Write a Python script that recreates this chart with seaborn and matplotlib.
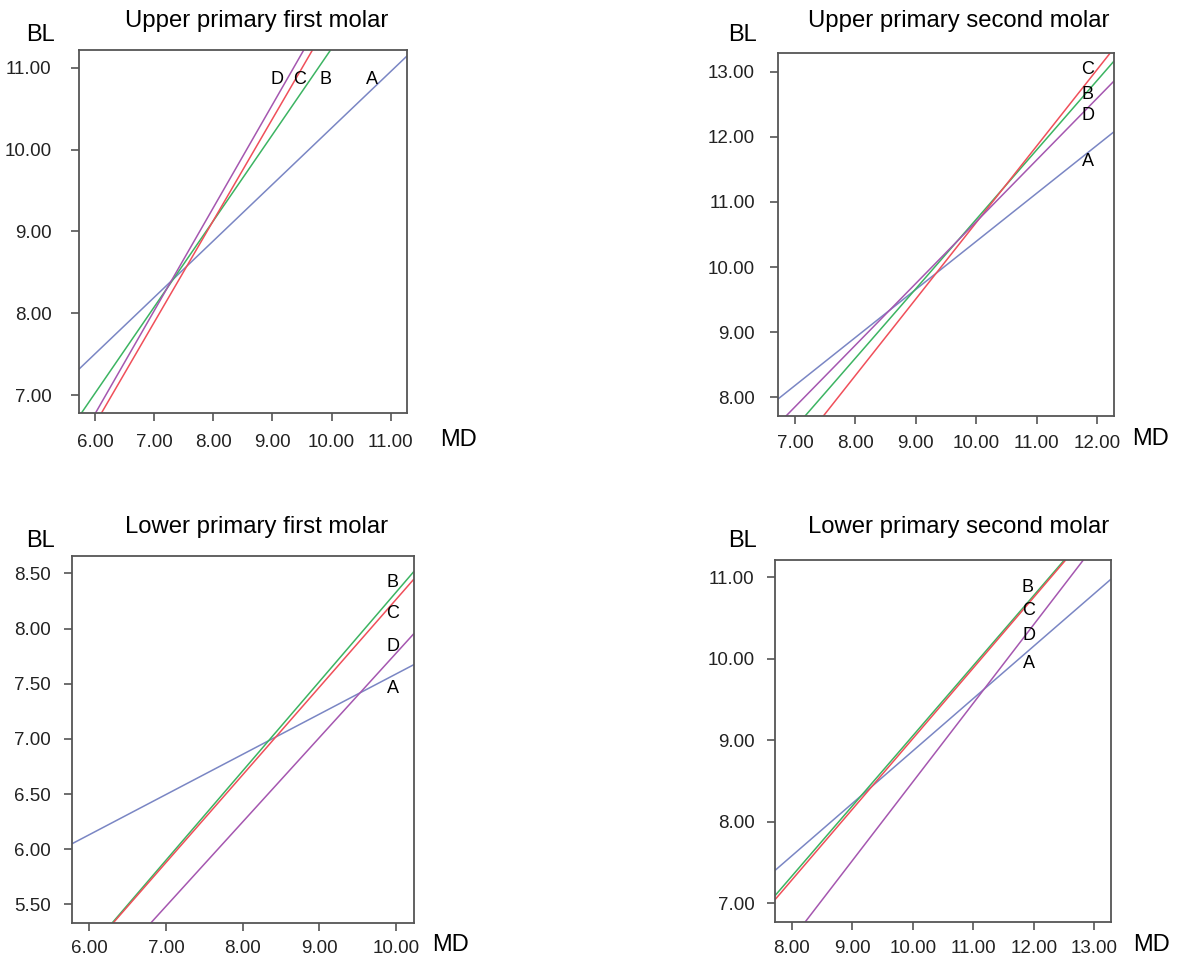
import matplotlib
matplotlib.use("Agg")
import matplotlib.pyplot as plt
import seaborn as sns
import pandas as pd

sns.set_style("white")
plt.rcParams['font.family'] = ['Liberation Sans', 'DejaVu Sans']
plt.rcParams['text.color'] = 'black'

groups = ["A", "B", "C", "D"]
colors = {"A": "#7a86c4", "B": "#3cb462", "C": "#f04f5a", "D": "#a557b0"}

titles = ["Upper primary first molar", "Upper primary second molar",
          "Lower primary first molar", "Lower primary second molar"]

# Regression line endpoints (x0, y0) -> (x1, y1), order A, B, C, D
p1_x0 = [5.725, 5.775, 6.113, 6.012]
p1_y0 = [7.313, 6.784, 6.784, 6.784]
p1_x1 = [11.275, 9.983, 9.677, 9.530]
p1_y1 = [11.143, 11.216, 11.216, 11.216]

p2_x0 = [6.713, 7.166, 7.469, 6.851]
p2_y0 = [7.970, 7.713, 7.713, 7.713]
p2_x1 = [12.287, 12.287, 12.215, 12.287]
p2_y1 = [12.080, 13.167, 13.281, 12.860]

p3_x0 = [5.769, 6.300, 6.313, 6.805]
p3_y0 = [6.048, 5.334, 5.334, 5.334]
p3_x1 = [10.235, 10.235, 10.235, 10.235]
p3_y1 = [7.672, 8.515, 8.446, 7.952]

p4_x0 = [7.719, 7.719, 7.719, 8.226]
p4_y0 = [7.401, 7.090, 7.041, 6.775]
p4_x1 = [13.270, 12.504, 12.526, 12.818]
p4_y1 = [10.975, 11.213, 11.213, 11.213]

# Axis ranges and ticks
xlims = [(5.725, 11.275), (6.713, 12.287), (5.769, 10.235), (7.719, 13.270)]
ylims = [(6.784, 11.216), (7.713, 13.281), (5.334, 8.660), (6.775, 11.213)]
xticks = [[6, 7, 8, 9, 10, 11], [7, 8, 9, 10, 11, 12], [6, 7, 8, 9, 10], [8, 9, 10, 11, 12, 13]]
yticks = [[7, 8, 9, 10, 11], [8, 9, 10, 11, 12, 13], [5.5, 6, 6.5, 7, 7.5, 8, 8.5], [7, 8, 9, 10, 11]]

# Letter label positions (data coords), order A, B, C, D
lab_x = [[10.68, 9.90, 9.46, 9.07], [11.85, 11.85, 11.85, 11.85],
         [9.96, 9.96, 9.96, 9.96], [11.92, 11.895, 11.92, 11.92]]
lab_y = [[10.86, 10.86, 10.86, 10.86], [11.62, 12.645, 13.03, 12.32],
         [7.46, 8.42, 8.136, 7.834], [9.94, 10.877, 10.59, 10.29]]

panels = [(p1_x0, p1_y0, p1_x1, p1_y1), (p2_x0, p2_y0, p2_x1, p2_y1),
          (p3_x0, p3_y0, p3_x1, p3_y1), (p4_x0, p4_y0, p4_x1, p4_y1)]

W, H = 1179, 958
fig = plt.figure(figsize=(W / 100, H / 100), dpi=100)

# axes boxes in pixels: left, top, right, bottom
boxes = [(78.7, 50.0, 407.0, 412.7), (777.7, 53.3, 1114.3, 416.0),
         (71.7, 555.7, 413.7, 922.7), (774.7, 560.0, 1110.7, 921.7)]
title_pos = [(256.7, 21), (959, 21), (256.7, 527), (959, 527)]
bl_pos = [(40, 35), (742.7, 35), (40, 540.7), (742.7, 540.7)]
md_pos = [(458.3, 440), (1150.7, 439.3), (450, 945), (1151.7, 945)]
ypads = [13.5, 10.5, 9.0, 8.6]
xpads = [9.5, 7.5, 6.5, 7.0]

for i in range(4):
    l, t, r, b = boxes[i]
    ax = fig.add_axes([l / W, 1 - b / H, (r - l) / W, (b - t) / H])
    x0, y0, x1, y1 = panels[i]
    rows = []
    for g, a, bb, c, d in zip(groups, x0, y0, x1, y1):
        rows.append({"MD": a, "BL": bb, "grp": g})
        rows.append({"MD": c, "BL": d, "grp": g})
    df = pd.DataFrame(rows)
    sns.lineplot(data=df, x="MD", y="BL", hue="grp", palette=colors, units="grp",
                 estimator=None, sort=False, linewidth=1.1, legend=False, ax=ax)
    ax.set_xlim(*xlims[i])
    ax.set_ylim(*ylims[i])
    ax.set_xticks(xticks[i])
    ax.set_yticks(yticks[i])
    ax.set_xticklabels([f"{v:.2f}" for v in xticks[i]])
    ax.set_yticklabels([f"{v:.2f}" for v in yticks[i]])
    ax.set_xlabel("")
    ax.set_ylabel("")
    for s in ax.spines.values():
        s.set_color("#555555")
        s.set_linewidth(1.3)
        s.set_visible(True)
    ax.tick_params(axis="x", direction="out", length=6, width=1.2, color="#555555",
                   labelsize=13.5, labelcolor="#222222", pad=xpads[i], bottom=True)
    ax.tick_params(axis="y", direction="out", length=6, width=1.2, color="#555555",
                   labelsize=13.5, labelcolor="#222222", pad=ypads[i], left=True)
    for g, lx, ly in zip(groups, lab_x[i], lab_y[i]):
        ax.text(lx, ly, g, fontsize=13, ha="center", va="center", color="black")
    tx, ty = title_pos[i]
    fig.text(tx / W, 1 - ty / H, titles[i], fontsize=17.2, ha="center", va="center",
             color="black")
    bx, by = bl_pos[i]
    fig.text(bx / W, 1 - by / H, "BL", fontsize=17, ha="center", va="center", color="black")
    mx, my = md_pos[i]
    fig.text(mx / W, 1 - my / H, "MD", fontsize=17, ha="center", va="center", color="black")

fig.savefig("out.png", dpi=100)
